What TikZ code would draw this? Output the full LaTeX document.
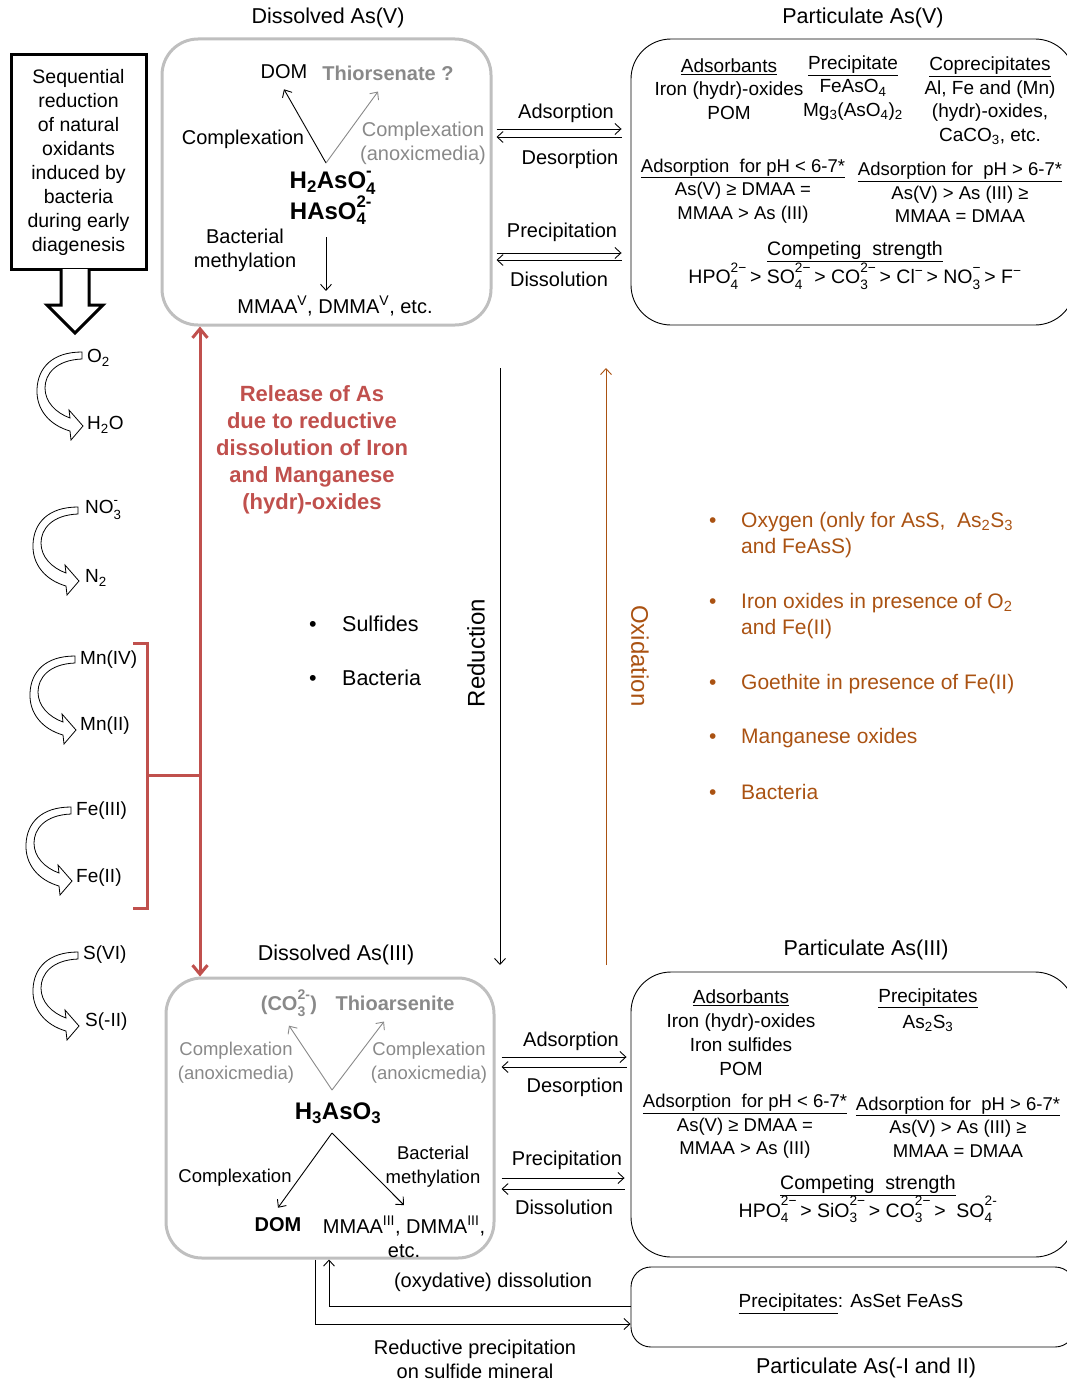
\documentclass[tikz,border=0pt]{standalone}
\usepackage{fontspec}
\setmainfont{Liberation Sans}
\usetikzlibrary{arrows.meta}

\definecolor{relred}{RGB}{192,80,77}
\definecolor{oxbrown}{RGB}{170,82,18}
\definecolor{boxgray}{RGB}{191,191,191}
\definecolor{txtgray}{RGB}{137,137,137}

\newcommand{\subsup}[2]{\rlap{\raisebox{-0.25ex}{\textsubscript{#1}}}\raisebox{0.35ex}{\textsuperscript{#2}}}
\newcommand{\chemsubsup}[2]{\rlap{\raisebox{-0.15ex}{\textsubscript{#1}}}\raisebox{0.25ex}{\textsuperscript{#2}}}

\tikzset{
  txt/.style={inner sep=0pt, align=center, font=\fontsize{20}{24}\selectfont},
  small/.style={txt, font=\fontsize{19}{23.5}\selectfont},
  tiny/.style={txt, font=\fontsize{18.5}{24}\selectfont},
  title/.style={txt, font=\fontsize{21.5}{26}\selectfont},
  chem/.style={txt, font=\fontsize{24}{27.5}\selectfont\bfseries},
  gtxt/.style={txt, text=txtgray},
  gbold/.style={gtxt, font=\fontsize{20}{24}\selectfont\bfseries},
  bul/.style={txt, anchor=west, align=left, text=oxbrown, font=\fontsize{21}{26}\selectfont},
  dbox/.style={draw=boxgray, line width=3pt, rounded corners=36pt},
  pbox/.style={draw, line width=0.9pt, rounded corners=40pt},
  tarr/.style={-{Straight Barb[length=6pt,width=11pt]}, line width=0.9pt},
  garr/.style={tarr, draw=txtgray},
  redln/.style={relred, line width=3pt},
  curv/.pic={
    \draw[line width=0.8pt, fill=white] (0,0) -- (0,7)
      .. controls (-26,8) and (-37,22) .. (-37,36)
      .. controls (-37,50) and (-26,61) .. (-12,66) -- (-13,58) -- (1,74) -- (-11,88) -- (-12,79)
      .. controls (-33,73) and (-46,57) .. (-45,37)
      .. controls (-44,16) and (-30,0) .. (0,0) -- cycle;
  }
}

\begin{document}
\begin{tikzpicture}[x=1pt, y=-1pt]
\useasboundingbox (0,0) rectangle (1066,1381);

% the five boxes
\node[dbox, minimum width=329pt, minimum height=286pt] (asv) at (326.5,182) {};
\node[pbox, minimum width=444pt, minimum height=286pt] (psv) at (853,182) {};
\node[dbox, minimum width=328pt, minimum height=280pt] (asiii) at (330,1118) {};
\node[pbox, minimum width=444pt, minimum height=285pt] (psiii) at (853,1114.5) {};
\node[pbox, rounded corners=20pt, minimum width=444pt, minimum height=80pt] (psi) at (853,1307) {};

\node[title] (t-asv) at (328,18) {Dissolved As(V)};
\node[title] (t-psv) at (863,18) {Particulate As(V)};
\node[title] (t-asiii) at (336,955) {Dissolved As(III)};
\node[title] (t-psiii) at (866,950) {Particulate As(III)};
\node[title] (t-psi) at (866,1368) {Particulate As(-I and II)};

% sequential reduction
\node[draw, line width=3pt, minimum width=135pt, minimum height=214pt, txt, font=\fontsize{19.5}{24}\selectfont] (seq) at (78.5,162)
  {Sequential\\reduction\\of natural\\oxidants\\induced by\\bacteria\\during early\\diagenesis};
\draw[line width=3pt, fill=white] (61,269) -- (61,305) -- (47,305) -- (75,333) -- (103,305) -- (89,305) -- (89,269);

\pic at (82,352) {curv};
\pic at (78,507) {curv};
\pic at (75,656) {curv};
\pic at (71,807) {curv};
\pic at (78,952) {curv};
\node[small, anchor=west] (o2) at (87,358) {O\textsubscript{2}};
\node[small, anchor=west] (h2o) at (87,425) {H\textsubscript{2}O};
\node[small, anchor=west] (no3) at (85,510) {NO\subsup{3}{-}};
\node[small, anchor=west] (n2) at (85,578) {N\textsubscript{2}};
\node[small, anchor=west] (mn4) at (80,660) {Mn(IV)};
\node[small, anchor=west] (mn2) at (80,726) {Mn(II)};
\node[small, anchor=west] (fe3) at (76,811) {Fe(III)};
\node[small, anchor=west] (fe2) at (76,878) {Fe(II)};
\node[small, anchor=west] (s6) at (83,955) {S(VI)};
\node[small, anchor=west] (s2) at (85,1022) {S(-II)};

% release by reductive dissolution
\coordinate (rx) at (200,775);
\draw[redln, {Straight Barb[length=9pt,width=15pt]}-{Straight Barb[length=9pt,width=15pt]}] (asv.south -| rx) -- (asiii.north -| rx);
\draw[redln] (133,643) -| (147,908) -- (133,908);
\draw[redln] (147,775) -- (rx);
\node[txt, text=relred, font=\fontsize{22}{27}\selectfont\bfseries] (rel) at (312,450)
  {Release of As\\due to reductive\\dissolution of Iron\\and Manganese\\(hydr)-oxides};

\node[txt, anchor=west, font=\fontsize{21.5}{26}\selectfont] (sulf) at (309,624) {\makebox[33pt][l]{•}Sulfides};
\node[txt, anchor=west, font=\fontsize{21.5}{26}\selectfont] (bact) at (309,678) {\makebox[33pt][l]{•}Bacteria};

% reduction / oxidation
\coordinate (rd-top) at (500,368);
\coordinate (rd-bot) at (500,965);
\draw[tarr] (rd-top) -- (rd-bot);
\node[txt, rotate=90, font=\fontsize{24}{28}\selectfont] (redn) at (476,653) {Reduction};
\coordinate (ox-bot) at (606,965);
\coordinate (ox-top) at (606,368);
\draw[tarr, oxbrown] (ox-bot) -- (ox-top);
\node[txt, rotate=-90, text=oxbrown, font=\fontsize{24}{28}\selectfont] (oxid) at (640,656) {Oxidation};

\node[bul] (ox1) at (709,535) {\makebox[32pt][l]{•}Oxygen (only for AsS,\ \ As\textsubscript{2}S\textsubscript{3}\\\hspace*{32pt}and FeAsS)};
\node[bul] (ox2) at (709,616) {\makebox[32pt][l]{•}Iron oxides in presence of O\textsubscript{2}\\\hspace*{32pt}and Fe(II)};
\node[bul] (ox3) at (709,684) {\makebox[32pt][l]{•}Goethite in presence of Fe(II)};
\node[bul] (ox4) at (709,738) {\makebox[32pt][l]{•}Manganese oxides};
\node[bul] (ox5) at (709,792) {\makebox[32pt][l]{•}Bacteria};

% dissolved As(V)
\node[txt] (dom5) at (284,72) {DOM};
\node[gbold] (thio5) at (388,73) {Thiorsenate ?};
\coordinate (ap5) at (326,163);
\draw[tarr] (ap5) -- ([yshift=-10pt]dom5.south);
\draw[garr] (ap5) -- ([xshift=-10pt,yshift=-11pt]thio5.south);
\node[txt] (cx5) at (243,139) {Complexation};
\node[gtxt] (cxg5) at (423,143) {Complexation\\(anoxicmedia)};
\node[chem] (h2as) at (331,198) {H\textsubscript{2}AsO\chemsubsup{4}{-}\\HAsO\chemsubsup{4}{2-}};
\node[txt] (bm5) at (245,250) {Bacterial\\methylation};
\coordinate (m5) at (326,237);
\node[txt] (mm5) at (335,306) {MMAA\textsuperscript{V}, DMMA\textsuperscript{V}, etc.};
\draw[tarr, shorten >=5pt] (m5) -- (m5 |- mm5.north);

\draw[tarr, shorten <=4pt, shorten >=9pt] (asv.east |- 0,129) -- (psv.west |- 0,129);
\draw[tarr, shorten <=9pt, shorten >=4pt] (psv.west |- 0,137) -- (asv.east |- 0,137);
\draw[tarr, shorten <=4pt, shorten >=9pt] (asv.east |- 0,253) -- (psv.west |- 0,253);
\draw[tarr, shorten <=9pt, shorten >=4pt] (psv.west |- 0,260) -- (asv.east |- 0,260);
\node[txt] (ad5) at (566,113) {Adsorption};
\node[txt] (de5) at (570,159) {Desorption};
\node[txt] (pr5) at (562,232) {Precipitation};
\node[txt] (di5) at (559,279) {Dissolution};

% particulate As(V)
\node[small] (c1) at (729,89) {\underline{Adsorbants}\\Iron (hydr)-oxides\\POM};
\node[small] (c2) at (853,88) {\underline{Precipitate}\\FeAsO\textsubscript{4}\\Mg\textsubscript{3}(AsO\textsubscript{4})\textsubscript{2}};
\node[small] (c3) at (990,101) {\underline{Coprecipitates}\\Al, Fe and (Mn)\\(hydr)-oxides,\\CaCO\textsubscript{3}, etc.};
\node[tiny, font=\fontsize{18.5}{23.5}\selectfont] (ph1) at (743,191) {\underline{Adsorption\ \ for pH < 6-7*}\\As(V) ≥ DMAA =\\MMAA > As (III)};
\node[tiny, font=\fontsize{18.5}{23.5}\selectfont] (ph2) at (960,192.5) {\underline{Adsorption for\ \ pH > 6-7*}\\As(V) > As (III) ≥\\MMAA = DMAA};
\node[small, font=\fontsize{19.5}{23.5}\selectfont] (cs5) at (855,265.5) {\underline{Competing\ \ strength}\\HPO\subsup{4}{2−}\,> SO\subsup{4}{2−}\,> CO\subsup{3}{2−}\,> Cl\textsuperscript{−}\,> NO\subsup{3}{−}\,> F\textsuperscript{−}};

% dissolved As(III)
\node[gbold] (co3) at (289,1003) {(CO\subsup{3}{2-})};
\node[gbold] (thioas) at (395,1003) {Thioarsenite};
\coordinate (ap3t) at (332,1090);
\draw[garr] (ap3t) -- ([yshift=-9pt]co3.south);
\draw[garr] (ap3t) -- ([xshift=-11pt,yshift=-11pt]thioas.south);
\node[tiny, text=txtgray] (cxl3) at (236,1063) {Complexation\\(anoxicmedia)};
\node[tiny, text=txtgray] (cxr3) at (429,1063) {Complexation\\(anoxicmedia)};
\node[chem] (h3as) at (338,1113) {H\textsubscript{3}AsO\textsubscript{3}};
\coordinate (ap3b) at (332,1133);
\node[txt, font=\fontsize{20}{24}\selectfont\bfseries] (dom3) at (278,1225) {DOM};
\node[txt] (mm3) at (404,1237) {MMAA\textsuperscript{III}, DMMA\textsuperscript{III},\\etc.};
\draw[tarr] (ap3b) -- ([yshift=10pt]dom3.north);
\draw[tarr] (ap3b) -- ([yshift=11pt]mm3.north);
\node[tiny] (cx3) at (235,1178) {Complexation};
\node[tiny] (bm3) at (433,1167) {Bacterial\\methylation};

\draw[tarr, shorten <=6pt, shorten >=4pt] (asiii.east |- 0,1057) -- (psiii.west |- 0,1057);
\draw[tarr, shorten <=4pt, shorten >=6pt] (psiii.west |- 0,1067) -- (asiii.east |- 0,1067);
\draw[tarr, shorten <=6pt, shorten >=6pt] (asiii.east |- 0,1178) -- (psiii.west |- 0,1178);
\draw[tarr, shorten <=6pt, shorten >=6pt] (psiii.west |- 0,1189) -- (asiii.east |- 0,1189);
\node[txt] (ad3) at (571,1041) {Adsorption};
\node[txt] (de3) at (575,1087) {Desorption};
\node[txt] (pr3) at (567,1160) {Precipitation};
\node[txt] (di3) at (564,1207) {Dissolution};

% particulate As(III)
\node[small, font=\fontsize{19}{24}\selectfont] (b1) at (741,1033) {\underline{Adsorbants}\\Iron (hydr)-oxides\\Iron sulfides\\POM};
\node[small, font=\fontsize{19}{26}\selectfont] (b2) at (928,1010) {\underline{Precipitates}\\As\textsubscript{2}S\textsubscript{3}};
\node[tiny, font=\fontsize{18.5}{23.5}\selectfont] (b3) at (745,1126.5) {\underline{Adsorption\ \ for pH < 6-7*}\\As(V) ≥ DMAA =\\MMAA > As (III)};
\node[tiny, font=\fontsize{18.5}{23.5}\selectfont] (b4) at (958,1127) {\underline{Adsorption for\ \ pH > 6-7*}\\As(V) > As (III) ≥\\MMAA = DMAA};
\node[small, font=\fontsize{19.5}{23.5}\selectfont] (cs3) at (868,1199) {\underline{Competing\ \ strength}\\HPO\subsup{4}{2−}\,> SiO\subsup{3}{2−}\,> CO\subsup{3}{2−}\,>\ \ SO\subsup{4}{2-}};

% sulfide minerals
\node[small] (prc) at (851,1304) {\underline{Precipitates}: AsSet FeAsS};
\draw[tarr] (psi.west |- 0,1306) -| (asiii.south -| 329,0);
\draw[tarr] (asiii.south -| 315,0) |- (psi.west |- 0,1324);
\node[txt] (oxd) at (493,1282) {(oxydative) dissolution};
\node[txt] (rdp) at (475,1359) {Reductive precipitation\\on sulfide mineral};
\end{tikzpicture}
\end{document}
